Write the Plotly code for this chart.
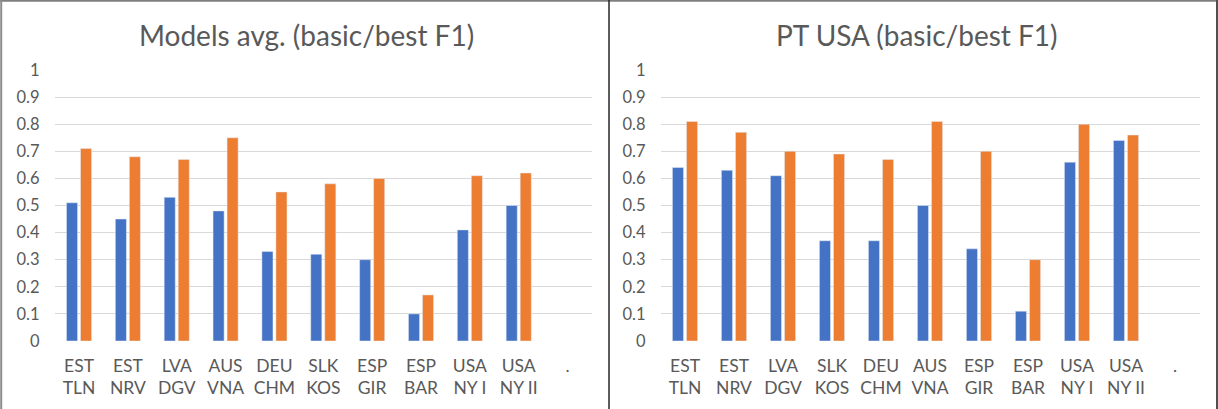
import plotly.graph_objects as go

W, H = 1218, 409

cats_left = ["EST<br>TLN", "EST<br>NRV", "LVA<br>DGV", "AUS<br>VNA", "DEU<br>CHM", "SLK<br>KOS",
             "ESP<br>GIR", "ESP<br>BAR", "USA<br>NY I", "USA<br>NY II", "."]
basic_left = [0.51, 0.45, 0.53, 0.48, 0.33, 0.32, 0.30, 0.10, 0.41, 0.50, None]
best_left = [0.71, 0.68, 0.67, 0.75, 0.55, 0.58, 0.60, 0.17, 0.61, 0.62, None]

cats_right = ["EST<br>TLN", "EST<br>NRV", "LVA<br>DGV", "SLK<br>KOS", "DEU<br>CHM", "AUS<br>VNA",
              "ESP<br>GIR", "ESP<br>BAR", "USA<br>NY I", "USA<br>NY II", "."]
basic_right = [0.64, 0.63, 0.61, 0.37, 0.37, 0.50, 0.34, 0.11, 0.66, 0.74, None]
best_right = [0.81, 0.77, 0.70, 0.69, 0.67, 0.81, 0.70, 0.30, 0.80, 0.76, None]

title_left = "Models avg. (basic/best F1)"
title_right = "PT USA (basic/best F1)"
y_ticks = [0, 0.1, 0.2, 0.3, 0.4, 0.5, 0.6, 0.7, 0.8, 0.9, 1]
y_ticktext = ["0", "0.1", "0.2", "0.3", "0.4", "0.5", "0.6", "0.7", "0.8", "0.9", "1"]

BLUE = "#4472C4"
ORANGE = "#ED7D31"
TXT = "#595959"
GRID = "#D9D9D9"
FONT = "Lato"

fig = go.Figure()
fig.add_bar(x=cats_left, y=basic_left, marker_color=BLUE, xaxis="x", yaxis="y", name="basic")
fig.add_bar(x=cats_left, y=best_left, marker_color=ORANGE, xaxis="x", yaxis="y", name="best")
fig.add_bar(x=cats_right, y=basic_right, marker_color=BLUE, xaxis="x2", yaxis="y2", name="basic")
fig.add_bar(x=cats_right, y=best_right, marker_color=ORANGE, xaxis="x2", yaxis="y2", name="best")

def px(x):
    return x / W

def py(y):
    return 1 - y / H

ydom = [py(341), py(70)]
xcommon = dict(type="category", showgrid=False, showline=False, ticks="", automargin=False,
               tickfont=dict(family=FONT, size=17.5, color=TXT), ticklabelstandoff=12,
               fixedrange=True)
ycommon = dict(range=[0, 1], tickvals=y_ticks, ticktext=y_ticktext, showgrid=True,
               gridcolor=GRID, gridwidth=1, zeroline=False, showline=False, ticks="",
               automargin=False,
               tickfont=dict(family=FONT, size=16.5, color=TXT), ticklabelstandoff=14,
               fixedrange=True)

fig.update_layout(
    width=W, height=H,
    margin=dict(l=0, r=0, t=0, b=0, pad=0, autoexpand=False),
    paper_bgcolor="white", plot_bgcolor="white",
    showlegend=False,
    barmode="group", bargap=0.426, bargroupgap=0.21,
    xaxis=dict(domain=[px(54.6), px(592)], anchor="y", **xcommon),
    yaxis=dict(domain=ydom, anchor="x", **ycommon),
    xaxis2=dict(domain=[px(660.5), px(1199.5)], anchor="y2", **xcommon),
    yaxis2=dict(domain=ydom, anchor="x2", **ycommon),
    font=dict(family=FONT, color=TXT),
    annotations=[
        dict(text=title_left, x=px(306), y=py(35), xref="paper", yref="paper",
             xanchor="center", yanchor="middle", showarrow=False,
             font=dict(family=FONT, size=28, color=TXT)),
        dict(text=title_right, x=px(917), y=py(35), xref="paper", yref="paper",
             xanchor="center", yanchor="middle", showarrow=False,
             font=dict(family=FONT, size=28, color=TXT)),
    ],
    shapes=[
        dict(type="line", xref="paper", yref="paper", x0=0, x1=1, y0=py(0.8), y1=py(0.8),
             line=dict(color="#7F7F7F", width=2)),
        dict(type="line", xref="paper", yref="paper", x0=px(1.2), x1=px(1.2), y0=0, y1=1,
             line=dict(color="#8C8C8C", width=2)),
        dict(type="line", xref="paper", yref="paper", x0=px(609), x1=px(609), y0=0, y1=1,
             line=dict(color="#262626", width=1.5)),
        dict(type="line", xref="paper", yref="paper", x0=px(1217), x1=px(1217), y0=0, y1=1,
             line=dict(color="#505050", width=2)),
    ],
)

post = (
    "document.documentElement.style.overflow='hidden';"
    "document.body.style.margin='0';"
    "document.body.style.overflow='hidden';"
)

fig.write_html("out.html", config={"displayModeBar": False}, post_script=post)
